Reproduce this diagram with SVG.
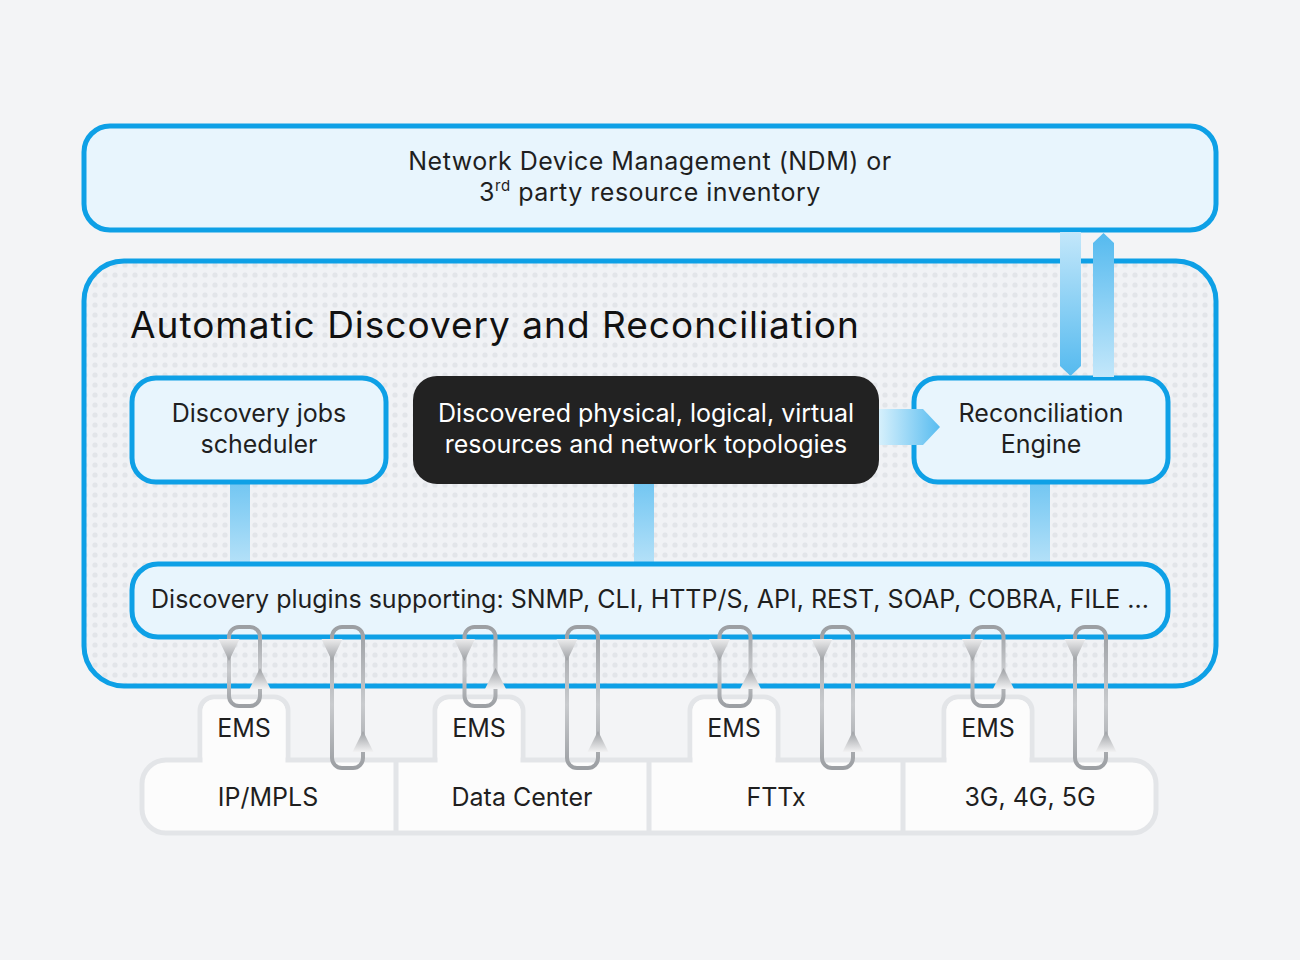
<svg xmlns="http://www.w3.org/2000/svg" width="1300" height="960" viewBox="0 0 1300 960">
<defs>
<pattern id="dots" width="10" height="10" patternUnits="userSpaceOnUse">
<rect width="10" height="10" fill="#f0f2f5"/>
<circle cx="5" cy="5" r="2.6" fill="#e2e5e9"/>
</pattern>
<linearGradient id="vbar" x1="0" y1="0" x2="0" y2="1">
<stop offset="0" stop-color="#72c6f2"/>
<stop offset="1" stop-color="#b5e1f8"/>
</linearGradient>
<linearGradient id="downArr" x1="0" y1="0" x2="0" y2="1">
<stop offset="0" stop-color="#c3e7fa"/>
<stop offset="1" stop-color="#55baef"/>
</linearGradient>
<linearGradient id="upArr" x1="0" y1="0" x2="0" y2="1">
<stop offset="0" stop-color="#55baef"/>
<stop offset="1" stop-color="#c3e7fa"/>
</linearGradient>
<linearGradient id="hArr" x1="0" y1="0" x2="1" y2="0">
<stop offset="0" stop-color="#d6f0fc"/>
<stop offset="1" stop-color="#58bcf0"/>
</linearGradient>
<linearGradient id="loopG" x1="0" y1="0" x2="0" y2="1">
<stop offset="0" stop-color="#9c9fa3"/>
<stop offset="0.55" stop-color="#c9cbce"/>
<stop offset="1" stop-color="#9c9fa3"/>
</linearGradient>
<linearGradient id="triDown" x1="0" y1="0" x2="0" y2="1">
<stop offset="0" stop-color="#ececed"/>
<stop offset="1" stop-color="#9a9da1"/>
</linearGradient>
<linearGradient id="triUp" x1="0" y1="0" x2="0" y2="1">
<stop offset="0" stop-color="#9a9da1"/>
<stop offset="1" stop-color="#f2f2f3"/>
</linearGradient>
</defs>
<style>
.box{fill:#e8f5fd;stroke:#0ea0e6;stroke-width:5}
.t{font-family:Inter,"Liberation Sans",sans-serif;font-size:25px;fill:#1f1f1f;text-anchor:middle}
.w{fill:#ffffff}
.ls{letter-spacing:0.5px}
.title{font-family:Inter,"Liberation Sans",sans-serif;font-size:37px;fill:#111111;letter-spacing:1px}
.dom{fill:#fcfcfc;stroke:#e3e5e8;stroke-width:5}
.domf{fill:#fcfcfc}
.div{stroke:#e3e5e8;stroke-width:5}
.loop{fill:none;stroke:url(#loopG);stroke-width:4}
.td{fill:url(#triDown)}
.tu{fill:url(#triUp)}
</style>
<rect width="1300" height="960" fill="#f3f4f6"/>

<g id="ndm">
<rect class="box" x="84" y="126" width="1132" height="104" rx="26"/>
<text class="t ls" x="650" y="170">Network Device Management (NDM) or</text>
<text class="t ls" x="650" y="201">3<tspan font-size="15" dy="-10">rd</tspan><tspan dy="10"> party resource inventory</tspan></text>
</g>

<g id="adr">
<rect x="84" y="261" width="1132" height="425" rx="40" fill="url(#dots)" stroke="#0ea0e6" stroke-width="5"/>
<text class="title" x="130" y="338">Automatic Discovery and Reconciliation</text>
</g>

<g id="connectors">
<rect x="230" y="482" width="20" height="82" fill="url(#vbar)"/>
<rect x="634" y="482" width="20" height="82" fill="url(#vbar)"/>
<rect x="1030" y="482" width="20" height="82" fill="url(#vbar)"/>
</g>

<g id="scheduler">
<rect class="box" x="132" y="378" width="254" height="104" rx="24"/>
<text class="t" x="259" y="422">Discovery jobs</text>
<text class="t" x="259" y="453">scheduler</text>
</g>

<g id="discovered">
<rect x="413" y="376" width="466" height="108" rx="24" fill="#222222"/>
<text class="t w" x="646" y="422">Discovered physical, logical, virtual</text>
<text class="t w" x="646" y="453">resources and network topologies</text>
</g>

<g id="reconciliation">
<rect class="box" x="914" y="378" width="254" height="104" rx="24"/>
<text class="t" x="1041" y="422">Reconciliation</text>
<text class="t" x="1041" y="453">Engine</text>
</g>

<g id="plugins">
<rect class="box" x="132" y="564" width="1036" height="73" rx="26"/>
<text class="t" x="650" y="608">Discovery plugins supporting: SNMP, CLI, HTTP/S, API, REST, SOAP, COBRA, FILE ...</text>
</g>

<g id="arrows">
<polygon points="879,409 923,409 940,427 923,445 879,445" fill="url(#hArr)"/>
<polygon points="1060,232 1081,232 1081,366 1070.5,376 1060,366" fill="url(#downArr)"/>
<polygon points="1103.5,233 1114,243 1114,377 1093,377 1093,243" fill="url(#upArr)"/>
</g>

<g id="domains">
<rect class="dom" x="200" y="697" width="88" height="80" rx="14"/>
<rect class="dom" x="435" y="697" width="88" height="80" rx="14"/>
<rect class="dom" x="690" y="697" width="88" height="80" rx="14"/>
<rect class="dom" x="944" y="697" width="88" height="80" rx="14"/>
<rect class="dom" x="142" y="760" width="1014" height="73" rx="24"/>
<rect class="domf" x="202.5" y="699.5" width="83" height="80" rx="12"/>
<rect class="domf" x="437.5" y="699.5" width="83" height="80" rx="12"/>
<rect class="domf" x="692.5" y="699.5" width="83" height="80" rx="12"/>
<rect class="domf" x="946.5" y="699.5" width="83" height="80" rx="12"/>
<line class="div" x1="396" y1="760" x2="396" y2="833"/>
<line class="div" x1="649" y1="760" x2="649" y2="833"/>
<line class="div" x1="903" y1="760" x2="903" y2="833"/>
<text class="t" x="244" y="737">EMS</text>
<text class="t" x="479" y="737">EMS</text>
<text class="t" x="734" y="737">EMS</text>
<text class="t" x="988" y="737">EMS</text>
<text class="t" x="268" y="806">IP/MPLS</text>
<text class="t" x="522" y="806">Data Center</text>
<text class="t" x="776" y="806">FTTx</text>
<text class="t" x="1030" y="806">3G, 4G, 5G</text>
</g>

<g id="ems-loops">
<rect class="loop" x="229" y="627" width="31" height="79" rx="10"/>
<rect class="loop" x="332" y="627" width="31" height="141" rx="10"/>
<polygon class="td" points="218.5,639 239.5,639 229,661"/>
<polygon class="tu" points="260,668 249.5,689 270.5,689"/>
<polygon class="td" points="321.5,639 342.5,639 332,661"/>
<polygon class="tu" points="363,731 352.5,752 373.5,752"/>

<rect class="loop" x="464.5" y="627" width="31" height="79" rx="10"/>
<rect class="loop" x="567" y="627" width="31" height="141" rx="10"/>
<polygon class="td" points="454,639 475,639 464.5,661"/>
<polygon class="tu" points="495.5,668 485,689 506,689"/>
<polygon class="td" points="556.5,639 577.5,639 567,661"/>
<polygon class="tu" points="598,731 587.5,752 608.5,752"/>

<rect class="loop" x="719.5" y="627" width="31" height="79" rx="10"/>
<rect class="loop" x="822" y="627" width="31" height="141" rx="10"/>
<polygon class="td" points="709,639 730,639 719.5,661"/>
<polygon class="tu" points="750.5,668 740,689 761,689"/>
<polygon class="td" points="811.5,639 832.5,639 822,661"/>
<polygon class="tu" points="853,731 842.5,752 863.5,752"/>

<rect class="loop" x="972.5" y="627" width="31" height="79" rx="10"/>
<rect class="loop" x="1075" y="627" width="31" height="141" rx="10"/>
<polygon class="td" points="962,639 983,639 972.5,661"/>
<polygon class="tu" points="1003.5,668 993,689 1014,689"/>
<polygon class="td" points="1064.5,639 1085.5,639 1075,661"/>
<polygon class="tu" points="1106,731 1095.5,752 1116.5,752"/>
</g>
</svg>
